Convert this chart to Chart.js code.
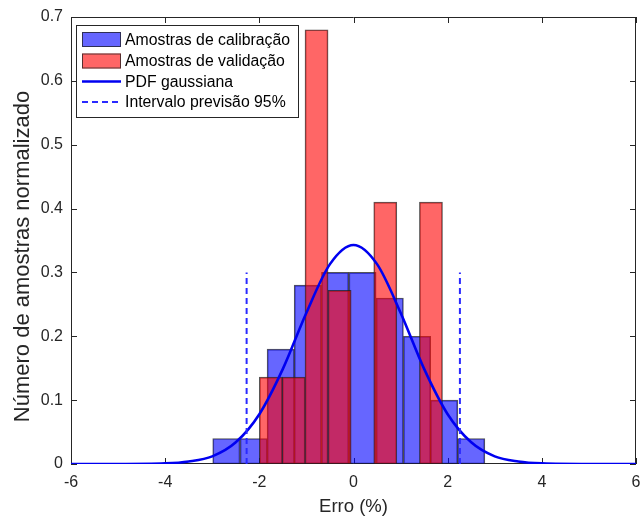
<!DOCTYPE html>
<html>
<head>
<meta charset="utf-8">
<script src="https://cdn.jsdelivr.net/npm/chart.js@4.4.1/dist/chart.umd.min.js"></script>
<style>
  html, body { margin: 0; padding: 0; background: #fff; }
</style>
</head>
<body>
<canvas id="chart" width="642" height="519"></canvas>
<script>
// histograma de calibração: limites das classes e altura normalizada
const calibEdges = [-2.99, -2.41, -1.83, -1.26, -0.68, -0.10, 0.48, 1.06, 1.64, 2.21, 2.79];
const calibValues = [0.04, 0.04, 0.18, 0.28, 0.30, 0.30, 0.26, 0.20, 0.10, 0.04];

// histograma de validação
const validEdges = [-2.00, -1.51, -1.03, -0.54, -0.05, 0.43, 0.92, 1.40, 1.89];
const validValues = [0.136, 0.136, 0.68, 0.272, 0, 0.41, 0, 0.41];

// curva gaussiana
const pdfX = [-6, -5, -4, -3.5, -3, -2.5, -2, -1.5, -1, -0.5, 0, 0.5, 1, 1.5, 2, 2.5, 3, 3.5, 4, 5, 6];
const pdfY = [0, 0, 0.001, 0.004, 0.012, 0.034, 0.078, 0.149, 0.237, 0.313, 0.343,
              0.313, 0.237, 0.149, 0.078, 0.034, 0.012, 0.004, 0.001, 0, 0];

// intervalo de previsão 95%
const intervalX = [-2.27, 2.26];
const intervalTop = 0.30;

const xTicks = [-6, -4, -2, 0, 2, 4, 6];
const yTicks = [0, 0.1, 0.2, 0.3, 0.4, 0.5, 0.6, 0.7];

const axisColor = '#262626';
const font = 'Arial, "Liberation Sans", sans-serif';

function histPoints(edges, values) {
  return values.map((v, i) => ({ x: (edges[i] + edges[i + 1]) / 2, y: v }));
}

const intervalPoints = [];
intervalX.forEach((x, i) => {
  if (i > 0) intervalPoints.push({ x: x, y: null });
  intervalPoints.push({ x: x, y: 0 }, { x: x, y: intervalTop });
});

// ticks para dentro nos quatro lados + caixa (estilo MATLAB)
const boxPlugin = {
  id: 'box',
  beforeDatasetsDraw(chart) {
    const { ctx, chartArea: a, scales: { x, y } } = chart;
    ctx.save();
    ctx.strokeStyle = axisColor;
    ctx.lineWidth = 1;
    ctx.beginPath();
    ctx.rect(a.left + 0.5, a.top + 0.5, a.right - a.left - 1, a.bottom - a.top - 1);
    const len = 6;
    xTicks.forEach(v => {
      const px = Math.round(x.getPixelForValue(v)) + 0.5;
      ctx.moveTo(px, a.bottom); ctx.lineTo(px, a.bottom - len);
      ctx.moveTo(px, a.top); ctx.lineTo(px, a.top + len);
    });
    yTicks.forEach(v => {
      const py = Math.round(y.getPixelForValue(v)) + 0.5;
      ctx.moveTo(a.left, py); ctx.lineTo(a.left + len, py);
      ctx.moveTo(a.right, py); ctx.lineTo(a.right - len, py);
    });
    ctx.stroke();
    ctx.restore();
  }
};

// legenda dentro do gráfico, canto superior esquerdo
const legendPlugin = {
  id: 'boxLegend',
  afterDraw(chart) {
    const { ctx } = chart;
    const ds = chart.data.datasets;
    const left = 76, top = 25, w = 222, h = 92;
    const rows = [39.5, 61, 81.5, 102];
    ctx.save();
    ctx.fillStyle = '#fff';
    ctx.fillRect(left, top, w, h);
    ctx.strokeStyle = axisColor;
    ctx.lineWidth = 1;
    ctx.strokeRect(left + 0.5, top + 0.5, w, h);
    ds.forEach((d, i) => {
      const cy = rows[i];
      if (d.type === 'bar') {
        ctx.fillStyle = d.backgroundColor;
        ctx.fillRect(82, cy - 7.5, 39, 15);
        ctx.strokeStyle = d.borderColor;
        ctx.lineWidth = 1;
        ctx.strokeRect(82.5, cy - 7, 38, 14);
      } else {
        ctx.strokeStyle = d.borderColor;
        ctx.lineWidth = d.borderWidth;
        ctx.setLineDash(d.borderDash || []);
        ctx.beginPath();
        ctx.moveTo(82, cy); ctx.lineTo(121, cy);
        ctx.stroke();
        ctx.setLineDash([]);
      }
      ctx.fillStyle = '#000';
      ctx.font = '15.8px ' + font;
      ctx.textBaseline = 'middle';
      ctx.fillText(d.label, 125, cy + 1);
    });
    ctx.restore();
  }
};

const chart = new Chart(document.getElementById('chart'), {
  data: {
    datasets: [{
      type: 'bar',
      label: 'Amostras de calibração',
      data: histPoints(calibEdges, calibValues),
      backgroundColor: 'rgba(0, 0, 255, 0.6)',
      borderColor: 'rgba(30, 30, 30, 0.75)',
      borderWidth: 1,
      borderSkipped: false,
      grouped: false,
      order: 3
    }, {
      type: 'bar',
      label: 'Amostras de validação',
      data: histPoints(validEdges, validValues),
      backgroundColor: 'rgba(255, 0, 0, 0.6)',
      borderColor: 'rgba(30, 30, 30, 0.75)',
      borderWidth: 1,
      borderSkipped: false,
      grouped: false,
      order: 2
    }, {
      type: 'line',
      label: 'PDF gaussiana',
      data: pdfX.map((x, i) => ({ x: x, y: pdfY[i] })),
      borderColor: '#0000f0',
      borderWidth: 2.6,
      pointRadius: 0,
      cubicInterpolationMode: 'monotone',
      order: 1
    }, {
      type: 'line',
      label: 'Intervalo previsão 95%',
      data: intervalPoints,
      borderColor: '#2a2aff',
      borderWidth: 2,
      borderDash: [6, 4],
      pointRadius: 0,
      spanGaps: false,
      order: 0
    }]
  },
  options: {
    responsive: false,
    animation: false,
    devicePixelRatio: 1,
    layout: { padding: { top: 17, right: 6, left: 0, bottom: 0 } },
    plugins: {
      legend: { display: false },
      tooltip: { enabled: false }
    },
    scales: {
      x: {
        type: 'linear',
        min: -6,
        max: 6,
        offset: false,
        grid: { display: false, drawTicks: false, offset: false },
        border: { display: false },
        ticks: {
          stepSize: 2,
          padding: 9,
          color: axisColor,
          font: { family: font, size: 16 }
        },
        title: {
          display: true,
          text: 'Erro (%)',
          color: axisColor,
          padding: { top: 0, bottom: 3 },
          font: { family: font, size: 18.5, lineHeight: 1 }
        },
        afterFit(scale) {
          scale.height = 55;
          scale.paddingLeft = 0;
          scale.paddingRight = 0;
        }
      },
      y: {
        min: 0,
        max: 0.7,
        grid: { display: false, drawTicks: false },
        border: { display: false },
        ticks: {
          stepSize: 0.1,
          padding: 8,
          color: axisColor,
          font: { family: font, size: 16 }
        },
        title: {
          display: true,
          text: 'Número de amostras normalizado',
          color: axisColor,
          padding: { top: 12, bottom: 0 },
          font: { family: font, size: 22, lineHeight: 1 }
        },
        afterFit(scale) {
          scale.width = 71;
          scale.paddingTop = 0;
          scale.paddingBottom = 0;
        }
      }
    }
  },
  plugins: [boxPlugin, legendPlugin]
});

// o rótulo do eixo y fica um pouco abaixo do centro no original
const yScale = chart.scales.y;
const drawTitleOrig = yScale.drawTitle;
yScale.drawTitle = function () {
  this.ctx.save();
  this.ctx.translate(0, 16);
  drawTitleOrig.call(this);
  this.ctx.restore();
};

// largura das barras = largura da classe, em pixels da escala x
const xs = chart.scales.x;
const pxPerUnit = xs.getPixelForValue(1) - xs.getPixelForValue(0);
chart.data.datasets[0].barThickness = (calibEdges[1] - calibEdges[0]) * pxPerUnit;
chart.data.datasets[1].barThickness = (validEdges[1] - validEdges[0]) * pxPerUnit;
chart.update('none');
</script>
</body>
</html>
